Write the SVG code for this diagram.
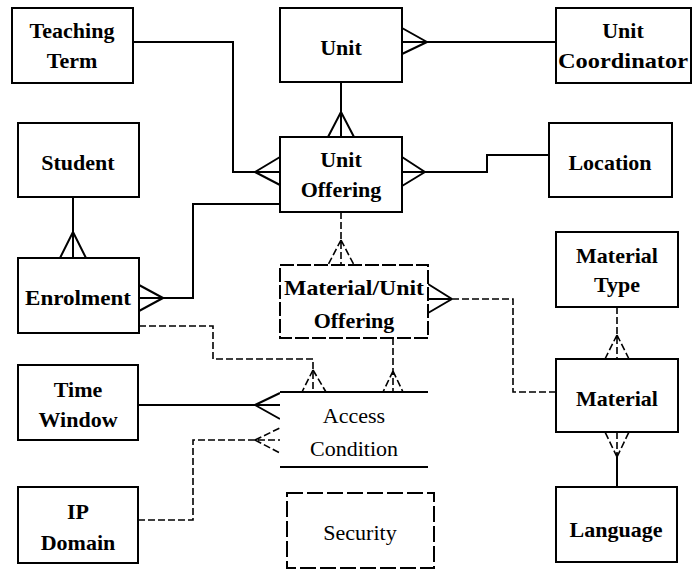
<svg xmlns="http://www.w3.org/2000/svg" width="693" height="570" viewBox="0 0 693 570">
<style>
.box{fill:#fff;stroke:#000;stroke-width:2}
.t{font-family:"Liberation Serif","Times New Roman",serif;font-size:22px;font-weight:bold;text-anchor:middle;fill:#000}
.n{font-weight:normal}
.c{fill:none;stroke:#000;stroke-width:2}
.d{fill:none;stroke:#000;stroke-width:1.6;stroke-dasharray:7 3}
</style>
<rect width="693" height="570" fill="#fff"/>
<g id="connectors">
  <!-- Teaching Term - Unit Offering -->
  <path class="c" d="M133,42 H233 V172 H280 M255,172 L280,157 M255,172 L280,185"/>
  <!-- Unit - Unit Coordinator -->
  <path class="c" d="M556,42 H402 M427,42 L402,28 M427,42 L402,54"/>
  <!-- Unit - Unit Offering -->
  <path class="c" d="M341,82 V137 M341,112 L328,137 M341,112 L354,137"/>
  <!-- Unit Offering - Location -->
  <path class="c" d="M402,172 H487 V155 H549 M425,172 L402,157 M425,172 L402,186"/>
  <!-- Student - Enrolment -->
  <path class="c" d="M73,197 V258 M73,232 L60,258 M73,232 L86,258"/>
  <!-- Enrolment - Unit Offering -->
  <path class="c" d="M139,298 H193 V204 H280 M163,298 L139,285 M163,298 L139,311"/>
  <!-- Enrolment - Access Condition -->
  <path class="d" d="M139,326 H213 V359 H313 V392"/>
  <path class="d" d="M313,370 L302,392 M313,370 L326,392"/>
  <!-- Unit Offering - Material/Unit Offering -->
  <path class="d" d="M341,212 V265 M341,240 L328,265 M341,240 L354,265"/>
  <!-- Material/Unit Offering - Access Condition -->
  <path class="d" d="M393,338 V392 M393,371 L383,392 M393,371 L403,392"/>
  <!-- Material/Unit Offering - Material -->
  <path class="c" d="M428,299 H452 M452,299 L428,284 M452,299 L428,313"/>
  <path class="d" d="M452,299 H513 V392 H556"/>
  <!-- Material Type - Material -->
  <path class="d" d="M617,307 V359 M617,335 L605,359 M617,335 L629,359"/>
  <!-- Material - Language -->
  <path class="d" d="M617,432 V457 M617,457 L605,432 M617,457 L629,432"/>
  <path class="c" d="M617,457 V487"/>
  <!-- Time Window - Access Condition -->
  <path class="c" d="M138,405 H280 M255,405 L280,393 M255,405 L280,419"/>
  <!-- IP Domain - Access Condition -->
  <path class="d" d="M138,520 H193 V440 H280 M255,440 L280,428 M255,440 L280,453"/>
</g>
<g id="teaching-term"><rect class="box" x="12" y="8" width="121" height="75"/><text class="t" x="72" y="38">Teaching</text><text class="t" x="72" y="68">Term</text></g>
<g id="unit"><rect class="box" x="280" y="8" width="122" height="74"/><text class="t" x="341" y="55">Unit</text></g>
<g id="unit-coordinator"><rect class="box" x="556" y="8" width="135" height="75"/><text class="t" x="623" y="38">Unit</text><text class="t" x="623" y="68" textLength="130" lengthAdjust="spacingAndGlyphs">Coordinator</text></g>
<g id="student"><rect class="box" x="18" y="123" width="121" height="74"/><text class="t" x="78" y="170">Student</text></g>
<g id="unit-offering"><rect class="box" x="280" y="137" width="122" height="75"/><text class="t" x="341" y="167">Unit</text><text class="t" x="341" y="197">Offering</text></g>
<g id="location"><rect class="box" x="549" y="123" width="123" height="74"/><text class="t" x="610" y="170">Location</text></g>
<g id="enrolment"><rect class="box" x="18" y="258" width="121" height="75"/><text class="t" x="78" y="305" textLength="106" lengthAdjust="spacingAndGlyphs">Enrolment</text></g>
<g id="material-unit-offering"><rect class="box" x="280" y="265" width="148" height="73" stroke-dasharray="14 3"/><text class="t" x="354" y="295" textLength="140" lengthAdjust="spacingAndGlyphs">Material/Unit</text><text class="t" x="354" y="328">Offering</text></g>
<g id="material-type"><rect class="box" x="556" y="232" width="122" height="75"/><text class="t" x="617" y="263">Material</text><text class="t" x="617" y="292">Type</text></g>
<g id="material"><rect class="box" x="556" y="359" width="122" height="73"/><text class="t" x="617" y="406">Material</text></g>
<g id="time-window"><rect class="box" x="18" y="365" width="120" height="75"/><text class="t" x="78" y="397">Time</text><text class="t" x="78" y="427">Window</text></g>
<g id="access-condition"><rect x="280" y="392" width="148" height="75" fill="#fff"/><path class="c" d="M280,392 H428 M280,467 H428"/><text class="t n" x="354" y="423">Access</text><text class="t n" x="354" y="456">Condition</text></g>
<g id="ip-domain"><rect class="box" x="18" y="487" width="120" height="76"/><text class="t" x="78" y="519">IP</text><text class="t" x="78" y="550">Domain</text></g>
<g id="security"><rect class="box" x="287" y="493" width="147" height="75" stroke-dasharray="16 4"/><text class="t n" x="360" y="540">Security</text></g>
<g id="language"><rect class="box" x="556" y="487" width="121" height="75"/><text class="t" x="616" y="537">Language</text></g>
</svg>
